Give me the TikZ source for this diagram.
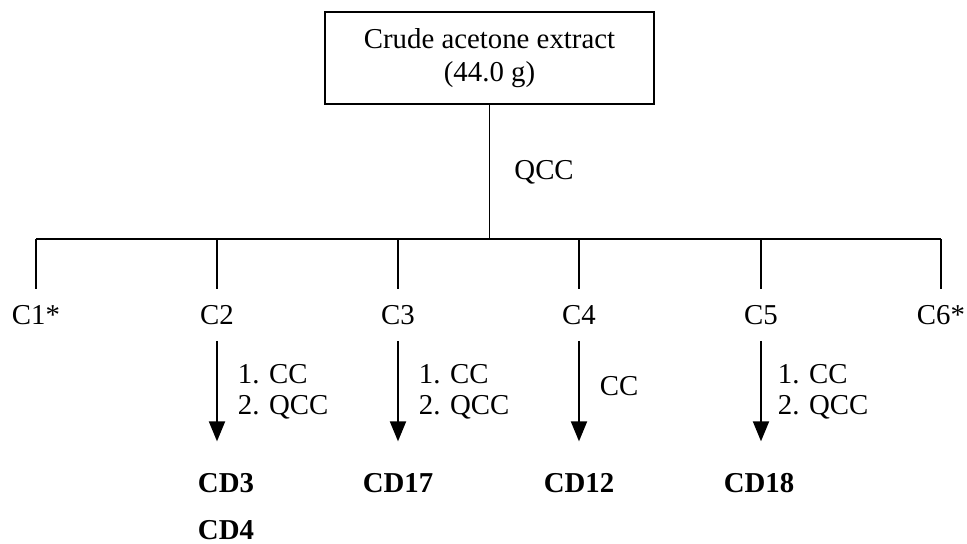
\documentclass[tikz,border=0pt]{standalone}
\usepackage{fontspec}
\setmainfont{Liberation Serif}
\usetikzlibrary{arrows.meta}

\begin{document}
\begin{tikzpicture}[x=0.02cm,y=-0.02cm,line width=1.1pt,
	every node/.style={font=\fontsize{16.4}{18.7}\selectfont},
	frac/.style={minimum height=1cm,inner sep=0pt},
	cmpd/.style={font=\fontsize{16.4}{18.7}\selectfont\bfseries,inner sep=0pt},
	method/.style={right,xshift=0.4cm,inner sep=0pt,align=left,font=\fontsize{16.4}{17.6}\selectfont},
	flow/.style={-{Triangle[width=0.32cm,length=0.4cm]},shorten >=0.62cm}]

\useasboundingbox (0,0) rectangle (967,544);

%%% Extract
\node[draw,minimum width=6.58cm,minimum height=1.84cm,align=center] (crude) at (489.5,58) {Crude acetone extract\\(44.0 g)};
\coordinate (hub) at (489.5,239);
\draw (crude.south) -- (hub) node[method,midway,xshift=0.08cm] {QCC};

%%% Fractions
\node[frac] (c1) at (36,315) {C1*};
\node[frac] (c2) at (217,315) {C2};
\node[frac] (c3) at (398,315) {C3};
\node[frac] (c4) at (579,315) {C4};
\node[frac] (c5) at (761,315) {C5};
\node[frac] (c6) at (941,315) {C6*};

%% Branches
\draw (c1 |- hub) -- (c6 |- hub);
\draw (c1 |- hub) -- (c1.north);
\draw (c2 |- hub) -- (c2.north);
\draw (c3 |- hub) -- (c3.north);
\draw (c4 |- hub) -- (c4.north);
\draw (c5 |- hub) -- (c5.north);
\draw (c6 |- hub) -- (c6.north);

%%% Compounds
\node[cmpd] (cd3) at (226,483) {CD3};
\node[cmpd] (cd4) at (226,530) {CD4};
\node[cmpd] (cd17) at (398,483) {CD17};
\node[cmpd] (cd12) at (579,483) {CD12};
\node[cmpd] (cd18) at (759,483) {CD18};

%% Separations
\draw[flow] (c2.south) -- (c2.south |- cd3.north) node[method,pos=0.39] {1. CC\\2. QCC};
\draw[flow] (c3.south) -- (c3.south |- cd17.north) node[method,pos=0.39] {1. CC\\2. QCC};
\draw[flow] (c4.south) -- (c4.south |- cd12.north) node[method,pos=0.34] {CC};
\draw[flow] (c5.south) -- (c5.south |- cd18.north) node[method,pos=0.39,xshift=-0.08cm] {1. CC\\2. QCC};
\end{tikzpicture}
\end{document}
